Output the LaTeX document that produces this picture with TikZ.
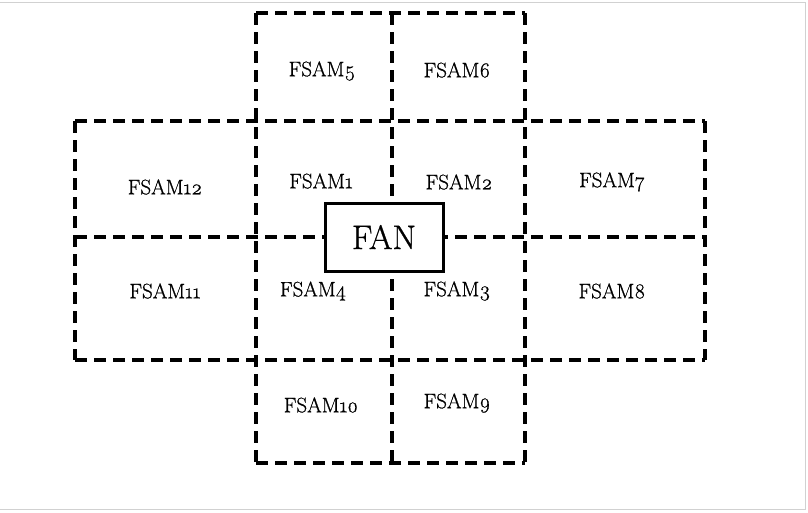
\documentclass[tikz,border=0pt]{standalone}
\usepackage{fontspec}
\setmainfont{Latin Modern Roman}[Numbers=OldStyle,FakeBold=0.8]
\begin{document}
\begin{tikzpicture}[x=1pt,y=-1pt,
  grid/.style={line width=3.6pt,dash pattern=on 12pt off 7pt},
  cell/.style={font=\fontsize{21}{21}\selectfont,inner sep=0pt},
  fanbox/.style={draw,line width=3pt,fill=white,minimum width=118pt,minimum height=68pt,inner sep=0pt,font=\fontsize{34}{34}\selectfont},
  page/.style={draw=black!18,line width=1pt}]
\useasboundingbox (0,0) rectangle (808,512);
% page edge
\draw[page] (0,2) -- (805,2) -- (805,509) -- (0,509);
% top row
\draw[grid] (256,13) -- (525,13);
\draw[grid] (256,13) -- (256,463);
\draw[grid] (392,13) -- (392,463);
\draw[grid] (525,13) -- (525,463);
% middle band
\draw[grid] (75,121) -- (705,121);
\draw[grid] (75,237) -- (705,237);
\draw[grid] (75,360) -- (705,360);
\draw[grid] (75,121) -- (75,360);
\draw[grid] (705,121) -- (705,360);
% bottom row
\draw[grid] (256,463) -- (525,463);
% labels
\node[cell] (f5) at (322,71) {FSAM5};
\node[cell] (f6) at (457,70) {FSAM6};
\node[cell] (f12) at (165,187) {FSAM12};
\node[cell] (f1) at (321,181) {FSAM1};
\node[cell] (f2) at (459,182) {FSAM2};
\node[cell] (f7) at (612,182) {FSAM7};
\node[cell] (f11) at (165,291) {FSAM11};
\node[cell] (f4) at (313,291) {FSAM4};
\node[cell] (f3) at (457,291) {FSAM3};
\node[cell] (f8) at (612,291) {FSAM8};
\node[cell] (f10) at (321,405) {FSAM10};
\node[cell] (f9) at (457,403) {FSAM9};
\node[fanbox] (fan) at (384,237) {FAN};
\end{tikzpicture}
\end{document}
